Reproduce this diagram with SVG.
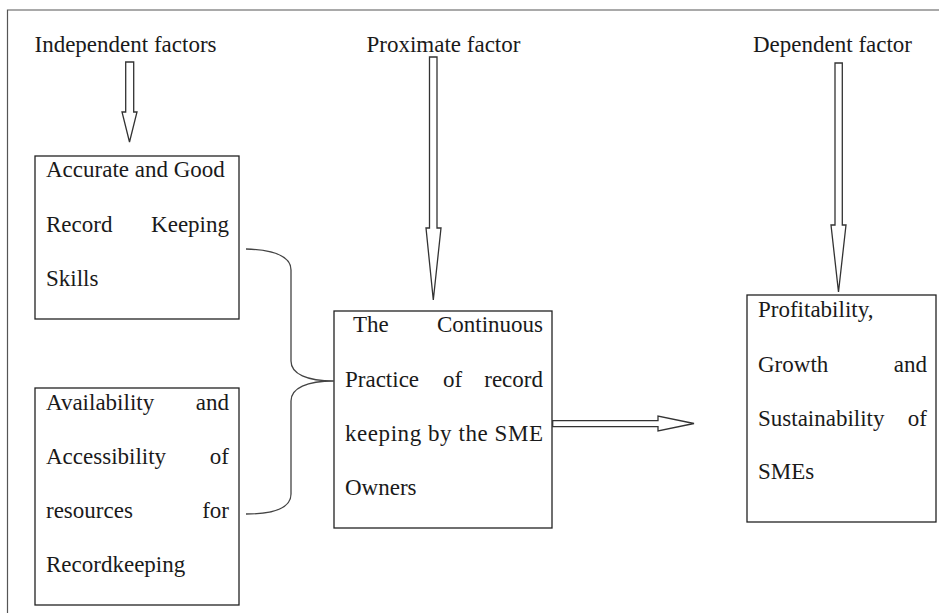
<svg xmlns="http://www.w3.org/2000/svg" width="939" height="613" viewBox="0 0 939 613">
<style>
text{font-family:"Liberation Serif","Times New Roman",serif;font-size:23px;fill:#1a1a1a}
.e{text-anchor:end}
.box{fill:#fff;stroke:#222;stroke-width:1.3}
.blk{fill:#fff;stroke:#333;stroke-width:1.3;stroke-linejoin:miter}
.brace{fill:none;stroke:#444;stroke-width:1.3}
.frame{fill:none;stroke:#555;stroke-width:1.2}
</style>
<rect width="939" height="613" fill="#fff"/>
<path class="frame" d="M7.5,613 V10 H939"/>
<g id="labels">
<text x="34.5" y="52">Independent factors</text>
<text x="366.5" y="52">Proximate factor</text>
<text x="753" y="52">Dependent factor</text>
</g>
<g id="node-skills">
<rect class="box" x="35" y="156" width="204" height="163"/>
<text x="46" y="177">Accurate and Good</text>
<text x="46" y="232">Record</text><text class="e" x="229" y="232">Keeping</text>
<text x="46" y="286">Skills</text>
</g>
<g id="node-resources">
<rect class="box" x="35" y="388" width="204" height="217"/>
<text x="46" y="410">Availability</text><text class="e" x="229" y="410">and</text>
<text x="46" y="464">Accessibility</text><text class="e" x="229" y="464">of</text>
<text x="46" y="518">resources</text><text class="e" x="229" y="518">for</text>
<text x="46" y="572">Recordkeeping</text>
</g>
<g id="node-practice">
<rect class="box" x="334" y="311" width="218" height="217"/>
<text x="353" y="332">The</text><text class="e" x="543" y="332">Continuous</text>
<text x="345" y="387">Practice</text><text x="443" y="387">of</text><text class="e" x="543" y="387">record</text>
<text x="345" y="441" textLength="198" lengthAdjust="spacing">keeping by the SME</text>
<text x="345" y="495">Owners</text>
</g>
<g id="node-profitability">
<rect class="box" x="747" y="295" width="189" height="227"/>
<text x="758" y="317">Profitability,</text>
<text x="758" y="372">Growth</text><text class="e" x="927" y="372">and</text>
<text x="758" y="426">Sustainability</text><text class="e" x="927" y="426">of</text>
<text x="758" y="479">SMEs</text>
</g>
<g id="connectors">
<polygon class="blk" points="125.7,62 133.7,62 133.7,112 137,112 129.5,142 122,112 125.7,112"/>
<polygon class="blk" points="429.5,57 437,57 437,228 441,228 433.3,300 426,228 429.5,228"/>
<polygon class="blk" points="835,63 842.3,63 842.3,225 846,225 838.5,292 831,225 835,225"/>
<polygon class="blk" points="552.7,420.7 658,420.7 658,416 694,423.5 658,431 658,426.7 552.7,426.7"/>
<path class="brace" d="M246,249 C276,250 291,257 291,270 V361 C291,374 307,381 334,381 C307,381 291,388 291,401 V494 C291,507 276,514 246,514"/>
</g>
</svg>
